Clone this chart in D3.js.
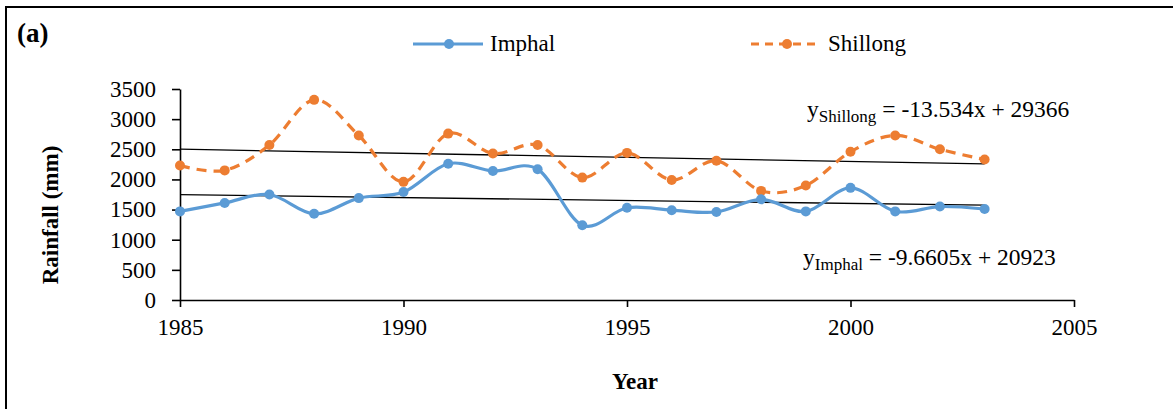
<!DOCTYPE html>
<html>
<head>
<meta charset="utf-8">
<script src="https://cdn.jsdelivr.net/npm/d3@7"></script>
<style>
  body { margin: 0; background: #fff; }
  svg { display: block; font-family: "Liberation Serif", "Times New Roman", serif; }
</style>
</head>
<body>
<svg id="chart" width="1173" height="409"></svg>
<script>
const years = [1985,1986,1987,1988,1989,1990,1991,1992,1993,1994,1995,1996,1997,1998,1999,2000,2001,2002,2003];
const imphal = [1470,1610,1750,1430,1690,1790,2260,2140,2170,1240,1530,1490,1460,1670,1470,1860,1470,1550,1510];
const shillong = [2230,2150,2570,3320,2730,1960,2760,2430,2570,2030,2440,1990,2310,1810,1900,2460,2730,2500,2330];
const xTicks = [1985,1990,1995,2000,2005];
const yTicks = [0,500,1000,1500,2000,2500,3000,3500];
const trendShillong = { slope: -13.534, intercept: 29366 };
const trendImphal = { slope: -9.6605, intercept: 20923 };
const blue = "#5B9BD5", orange = "#ED7D31";

const svg = d3.select("#chart");
// outer frame
svg.append("rect").attr("x", 6).attr("y", 7).attr("width", 1200).attr("height", 450)
  .attr("fill", "none").attr("stroke", "#000").attr("stroke-width", 2);

svg.append("text").attr("x", 17).attr("y", 42).attr("font-size", 27).attr("font-weight", "bold").text("(a)");

const x = d3.scaleLinear().domain([1985, 2005]).range([180, 1074]);
const y = d3.scaleLinear().domain([0, 3500]).range([300, 89]);

// axes
const yAxis = svg.append("g").attr("transform", "translate(180,0)")
  .call(d3.axisLeft(y).tickValues(yTicks).tickFormat(d3.format("d")).tickSize(8).tickPadding(16).tickSizeOuter(0));
const xAxis = svg.append("g").attr("transform", "translate(0,300)")
  .call(d3.axisBottom(x).tickValues(xTicks).tickFormat(d3.format("d")).tickSize(7).tickPadding(12).tickSizeOuter(0));
[yAxis, xAxis].forEach(g => {
  g.attr("font-family", "Liberation Serif, Times New Roman, serif").attr("font-size", 23);
  g.selectAll("path, line").attr("stroke", "#000").attr("stroke-width", 1.6);
  g.selectAll("text").attr("fill", "#000");
});

// trend lines
[trendShillong, trendImphal].forEach(t => {
  svg.append("line")
    .attr("x1", x(years[0])).attr("y1", y(t.slope * years[0] + t.intercept))
    .attr("x2", x(years[years.length - 1])).attr("y2", y(t.slope * years[years.length - 1] + t.intercept))
    .attr("stroke", "#000").attr("stroke-width", 1.3);
});

const line = d3.line().x(d => x(d[0])).y(d => y(d[1])).curve(d3.curveCardinal.tension(0));

function series(vals, color, dashed) {
  const pts = years.map((yr, i) => [yr, vals[i]]);
  svg.append("path").datum(pts).attr("d", line).attr("fill", "none")
    .attr("stroke", color).attr("stroke-width", 3.2)
    .attr("stroke-dasharray", dashed ? "10,7" : null);
  svg.append("g").selectAll("circle").data(pts).join("circle")
    .attr("cx", d => x(d[0])).attr("cy", d => y(d[1])).attr("r", 5).attr("fill", color);
}
series(shillong, orange, true);
series(imphal, blue, false);

// equations
const eq1 = svg.append("text").attr("x", 807).attr("y", 117).attr("font-size", 23.5);
eq1.append("tspan").text("y");
eq1.append("tspan").attr("font-size", 17).attr("dy", 5).text("Shillong");
eq1.append("tspan").attr("dy", -5).text(" = -13.534x + 29366");
const eq2 = svg.append("text").attr("x", 803).attr("y", 265).attr("font-size", 23.5);
eq2.append("tspan").text("y");
eq2.append("tspan").attr("font-size", 17).attr("dy", 5).text("Imphal");
eq2.append("tspan").attr("dy", -5).text(" = -9.6605x + 20923");

// legend
function legend(x0, color, dashed, label) {
  svg.append("line").attr("x1", x0).attr("x2", x0 + 70).attr("y1", 44).attr("y2", 44)
    .attr("stroke", color).attr("stroke-width", 3.2)
    .attr("stroke-dasharray", dashed ? "8,6" : null);
  svg.append("circle").attr("cx", x0 + 36).attr("cy", 44).attr("r", 5).attr("fill", color);
  svg.append("text").attr("x", x0 + 77).attr("y", 51).attr("font-size", 23).text(label);
}
legend(413, blue, false, "Imphal");
legend(751, orange, true, "Shillong");

// axis titles
svg.append("text").attr("transform", "translate(58,215) rotate(-90)").attr("text-anchor", "middle")
  .attr("font-size", 23).attr("font-weight", "bold").text("Rainfall (mm)");
svg.append("text").attr("x", 635).attr("y", 389).attr("text-anchor", "middle")
  .attr("font-size", 23).attr("font-weight", "bold").text("Year");
</script>
</body>
</html>
